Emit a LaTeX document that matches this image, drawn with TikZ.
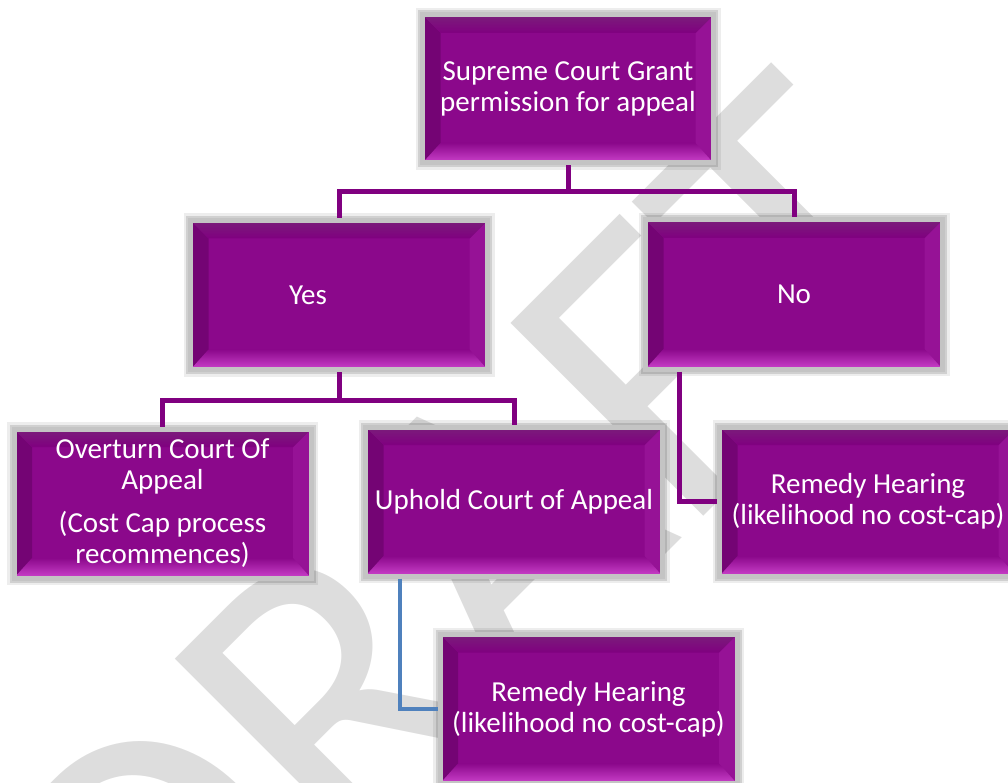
\documentclass[tikz,border=0pt]{standalone}
\usepackage{fontspec}
\setmainfont{Carlito}
\usetikzlibrary{calc}
\definecolor{casepurple}{RGB}{139,8,139}
\definecolor{bevdark}{RGB}{116,4,116}
\definecolor{bevright}{RGB}{150,18,150}
\definecolor{bevtop}{RGB}{122,30,122}
\definecolor{bevlight}{RGB}{204,66,204}
\definecolor{framegray}{RGB}{196,196,196}
\definecolor{linkpurple}{RGB}{128,0,128}
\definecolor{linkblue}{RGB}{79,129,189}
\definecolor{draftgray}{RGB}{221,221,221}
\newcommand{\casefont}{\fontsize{29}{31}\selectfont}
\tikzset{
	casebox/.style={fill=casepurple, draw=framegray, line width=5pt, text=white, font=\casefont,
		align=center, minimum width=297pt, minimum height=149pt, inner sep=0pt,
		preaction={draw=black, draw opacity=.07, line width=14pt},
		preaction={draw=black, draw opacity=.12, line width=9pt},
		path picture={
			\coordinate (bnw) at (path picture bounding box.north west);
			\coordinate (bne) at (path picture bounding box.north east);
			\coordinate (bsw) at (path picture bounding box.south west);
			\coordinate (bse) at (path picture bounding box.south east);
			\fill[bevdark] (bnw) -- (bsw) -- ($(bsw)+(18pt,18pt)$) -- ($(bnw)+(18pt,-18pt)$) -- cycle;
			\fill[bevright] (bne) -- (bse) -- ($(bse)+(-18pt,18pt)$) -- ($(bne)+(-18pt,-18pt)$) -- cycle;
			\shade[top color=bevtop, bottom color=linkpurple] (bnw) -- (bne) -- ($(bne)+(-18pt,-18pt)$) -- ($(bnw)+(18pt,-18pt)$) -- cycle;
			\shade[top color=casepurple, bottom color=bevlight] (bsw) -- (bse) -- ($(bse)+(-18pt,20pt)$) -- ($(bsw)+(18pt,20pt)$) -- cycle;
			\draw[white, opacity=.6, line width=1pt] (bsw) -- (bnw) -- (bne);
		}},
	link/.style={draw=linkpurple, line width=5pt},
}
\begin{document}
\begin{tikzpicture}[x={(1pt,0pt)}, y={(0pt,-1pt)}]
	\useasboundingbox (0,0) rectangle (1008,783);

	\node[draftgray, rotate=45, anchor=base, inner sep=0pt, font=\fontsize{425}{425}\selectfont] (draftmark) at (565,655) {DRAFT};

	\node[casebox, minimum width=291pt, minimum height=148pt] (grant) at (568,89) {Supreme Court Grant\\permission for appeal};

	\node[casebox] (yes) at (339,295) {Yes\hspace*{62pt}};
	\node[casebox] (no) at (794,294.5) {No};

	\node[casebox] (overturn) at (162.5,503.5) {Overturn Court Of\\Appeal\\[12pt](Cost Cap process\\recommences)};
	\node[casebox] (uphold) at (514,501.5) {Uphold Court of Appeal};
	\node[casebox] (remedyno) at (868,501.5) {Remedy Hearing\\(likelihood no cost-cap)};

	\node[casebox] (remedyup) at (588.5,709) {Remedy Hearing\\(likelihood no cost-cap)};

	\draw[link] (grant.south) -- ++(0,26) -| (yes.north);
	\draw[link] (grant.south) -- ++(0,26) -| (no.north);
	\draw[link] (yes.south) -- ++(0,28) -| (overturn.north);
	\draw[link] (yes.south) -- ++(0,28) -| (uphold.north);
	\draw[link] ([xshift=36pt]no.south west) |- (remedyno.west);
	\draw[link, draw=linkblue, line width=4.5pt] ([xshift=37pt]uphold.south west) |- (remedyup.west);
\end{tikzpicture}
\end{document}
